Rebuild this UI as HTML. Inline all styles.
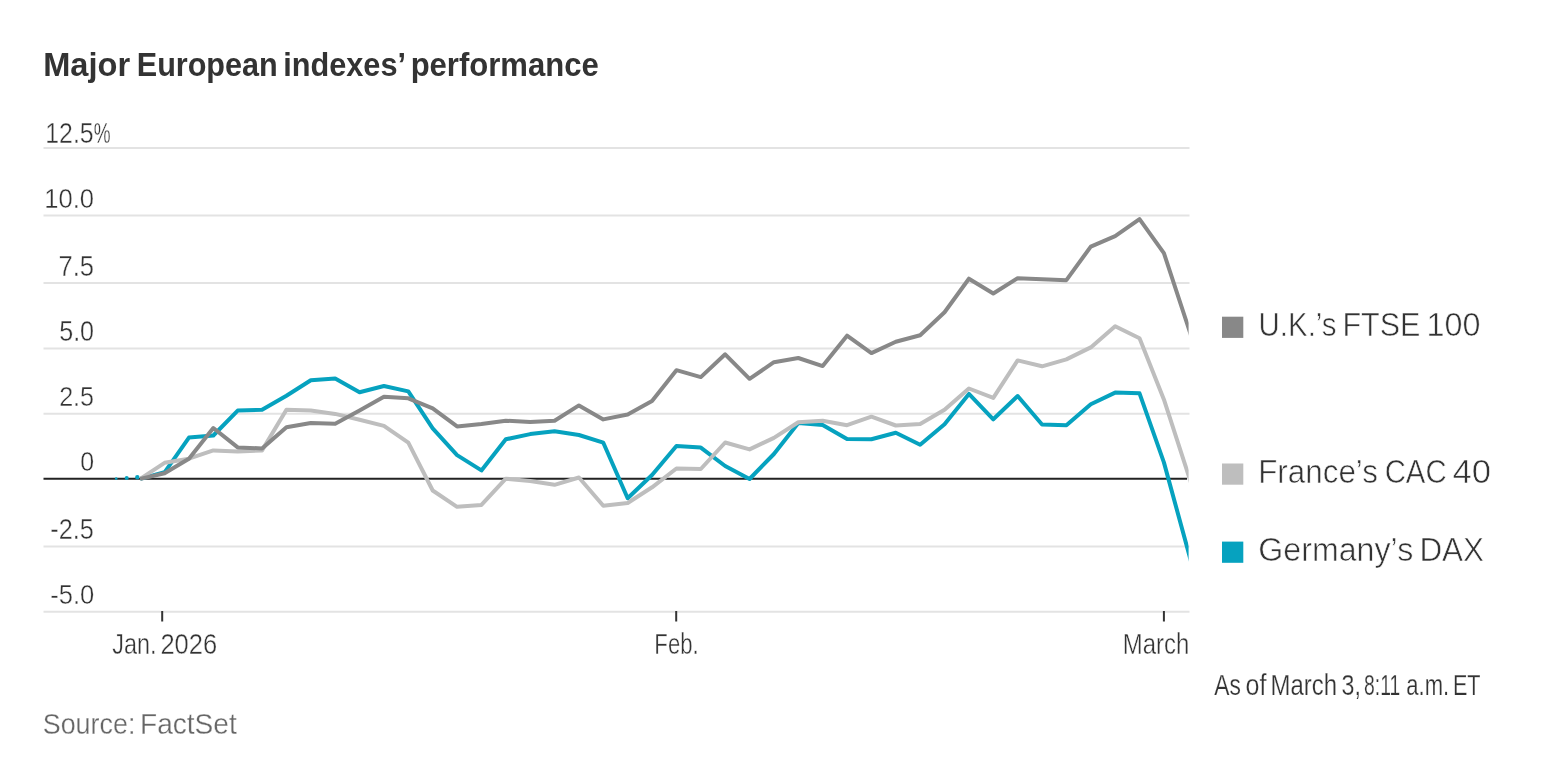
<!DOCTYPE html>
<html><head><meta charset="utf-8"><title>Major European indexes’ performance</title>
<style>html,body{margin:0;padding:0;background:#fff;width:1568px;height:784px;overflow:hidden;}svg{display:block;will-change:transform;}</style>
</head><body>
<svg width="1568" height="784" viewBox="0 0 1568 784" font-family='"Liberation Sans", sans-serif'>
<rect width="1568" height="784" fill="#fff"/>
<defs><clipPath id="plot"><rect x="0" y="0" width="1188.60" height="784"/></clipPath></defs>
<line x1="43.5" y1="148.0" x2="1189.5" y2="148.0" stroke="#e3e3e3" stroke-width="2"/>
<line x1="43.5" y1="215.5" x2="1189.5" y2="215.5" stroke="#e3e3e3" stroke-width="2"/>
<line x1="43.5" y1="283.0" x2="1189.5" y2="283.0" stroke="#e3e3e3" stroke-width="2"/>
<line x1="43.5" y1="348.5" x2="1189.5" y2="348.5" stroke="#e3e3e3" stroke-width="2"/>
<line x1="43.5" y1="413.8" x2="1189.5" y2="413.8" stroke="#e3e3e3" stroke-width="2"/>
<line x1="43.5" y1="546.5" x2="1189.5" y2="546.5" stroke="#e3e3e3" stroke-width="2"/>
<line x1="43.5" y1="611.8" x2="1189.5" y2="611.8" stroke="#e3e3e3" stroke-width="2"/>
<line x1="162.2" y1="611" x2="162.2" y2="621.5" stroke="#333" stroke-width="2"/>
<line x1="676.2" y1="611" x2="676.2" y2="621.5" stroke="#333" stroke-width="2"/>
<line x1="1163.9" y1="611" x2="1163.9" y2="621.5" stroke="#333" stroke-width="2"/>
<line x1="43.5" y1="478.8" x2="1187" y2="478.8" stroke="#222" stroke-width="2"/>
<circle cx="116.2" cy="478.6" r="1.3" fill="#06a2bf"/>
<circle cx="126.7" cy="478.0" r="2.0" fill="#06a2bf"/>
<circle cx="137.3" cy="477.2" r="2.2" fill="#06a2bf"/>
<polyline points="140.20,478.90 164.57,472.30 188.95,437.60 213.32,435.50 237.70,410.60 262.07,409.80 286.44,395.70 310.82,380.20 335.19,378.60 359.56,392.30 383.94,386.00 408.31,391.40 432.69,428.40 457.06,455.10 481.43,470.40 505.81,439.30 530.18,434.10 554.55,431.20 578.93,435.00 603.30,442.70 627.68,498.20 652.05,475.00 676.42,446.00 700.80,447.60 725.17,466.00 749.55,479.00 773.92,454.00 798.29,423.00 822.67,424.90 847.04,439.10 871.41,439.30 895.79,432.70 920.16,444.70 944.54,424.30 968.91,393.90 993.28,419.30 1017.66,396.00 1042.03,424.50 1066.40,425.30 1090.78,404.20 1115.15,392.60 1139.53,393.30 1163.90,462.40 1196.00,579.62" fill="none" stroke="#06a2bf" stroke-width="4.00" stroke-linejoin="round" clip-path="url(#plot)"/>
<polyline points="140.20,478.90 164.57,462.80 188.95,458.70 213.32,450.40 237.70,451.50 262.07,450.40 286.44,409.80 310.82,410.60 335.19,413.90 359.56,419.70 383.94,425.90 408.31,442.70 432.69,490.50 457.06,506.80 481.43,504.90 505.81,478.70 530.18,481.00 554.55,484.80 578.93,477.50 603.30,505.80 627.68,503.00 652.05,487.30 676.42,468.50 700.80,469.00 725.17,442.50 749.55,449.40 773.92,437.90 798.29,422.30 822.67,420.70 847.04,425.20 871.41,416.70 895.79,425.50 920.16,424.10 944.54,409.80 968.91,388.50 993.28,397.90 1017.66,360.40 1042.03,366.30 1066.40,359.40 1090.78,347.40 1115.15,326.20 1139.53,338.30 1163.90,399.40 1196.00,498.43" fill="none" stroke="#bebebe" stroke-width="4.00" stroke-linejoin="round" clip-path="url(#plot)"/>
<polyline points="140.20,478.90 164.57,473.30 188.95,458.70 213.32,428.00 237.70,447.40 262.07,448.40 286.44,427.20 310.82,423.00 335.19,423.80 359.56,410.60 383.94,396.80 408.31,398.30 432.69,408.30 457.06,426.40 481.43,424.00 505.81,420.70 530.18,422.00 554.55,420.70 578.93,405.40 603.30,419.40 627.68,414.50 652.05,401.00 676.42,370.20 700.80,377.10 725.17,354.30 749.55,378.80 773.92,362.20 798.29,358.00 822.67,366.10 847.04,335.70 871.41,353.10 895.79,341.70 920.16,335.20 944.54,312.20 968.91,278.70 993.28,293.50 1017.66,278.20 1042.03,279.20 1066.40,280.20 1090.78,246.60 1115.15,236.20 1139.53,219.10 1163.90,253.10 1196.00,350.70" fill="none" stroke="#888888" stroke-width="4.00" stroke-linejoin="round" clip-path="url(#plot)"/>
<rect x="1222" y="316.7" width="21.3" height="21.2" fill="#888888"/>
<rect x="1222" y="463.5" width="21.3" height="21.2" fill="#bebebe"/>
<rect x="1222" y="541.6" width="21.3" height="21.2" fill="#06a2bf"/>
<text x="43.22" y="76.00" font-size="33.00" textLength="86.92" lengthAdjust="spacingAndGlyphs" fill="#333" font-weight="bold">Major</text>
<text x="136.74" y="76.00" font-size="33.00" textLength="141.00" lengthAdjust="spacingAndGlyphs" fill="#333" font-weight="bold">European</text>
<text x="283.22" y="76.00" font-size="33.00" textLength="122.80" lengthAdjust="spacingAndGlyphs" fill="#333" font-weight="bold">indexes’</text>
<text x="410.64" y="76.00" font-size="33.00" textLength="188.16" lengthAdjust="spacingAndGlyphs" fill="#333" font-weight="bold">performance</text>
<text x="45.26" y="142.60" font-size="28.90" textLength="48.34" lengthAdjust="spacingAndGlyphs" fill="#333" stroke="#fff" stroke-width="0.40">12.5</text>
<text x="93.68" y="142.60" font-size="28.90" textLength="16.88" lengthAdjust="spacingAndGlyphs" fill="#333" stroke="#fff" stroke-width="0.40">%</text>
<text x="44.26" y="208.00" font-size="28.50" textLength="49.82" lengthAdjust="spacingAndGlyphs" fill="#333" stroke="#fff" stroke-width="0.40">10.0</text>
<text x="58.54" y="275.70" font-size="28.90" textLength="35.54" lengthAdjust="spacingAndGlyphs" fill="#333" stroke="#fff" stroke-width="0.40">7.5</text>
<text x="59.16" y="341.00" font-size="29.50" textLength="34.92" lengthAdjust="spacingAndGlyphs" fill="#333" stroke="#fff" stroke-width="0.40">5.0</text>
<text x="59.16" y="406.00" font-size="28.30" textLength="34.92" lengthAdjust="spacingAndGlyphs" fill="#333" stroke="#fff" stroke-width="0.40">2.5</text>
<text x="80.20" y="471.30" font-size="28.50" textLength="13.88" lengthAdjust="spacingAndGlyphs" fill="#333" stroke="#fff" stroke-width="0.40">0</text>
<text x="50.30" y="538.60" font-size="28.80" textLength="43.54" lengthAdjust="spacingAndGlyphs" fill="#333" stroke="#fff" stroke-width="0.40">-2.5</text>
<text x="50.16" y="603.80" font-size="27.80" textLength="44.06" lengthAdjust="spacingAndGlyphs" fill="#333" stroke="#fff" stroke-width="0.40">-5.0</text>
<text x="112.20" y="654.40" font-size="28.90" textLength="44.20" lengthAdjust="spacingAndGlyphs" fill="#333" stroke="#fff" stroke-width="0.40">Jan.</text>
<text x="160.40" y="654.40" font-size="28.90" textLength="56.72" lengthAdjust="spacingAndGlyphs" fill="#333" stroke="#fff" stroke-width="0.40">2026</text>
<text x="654.36" y="654.30" font-size="28.90" textLength="44.28" lengthAdjust="spacingAndGlyphs" fill="#333" stroke="#fff" stroke-width="0.40">Feb.</text>
<text x="1122.74" y="654.30" font-size="28.90" textLength="66.48" lengthAdjust="spacingAndGlyphs" fill="#333" stroke="#fff" stroke-width="0.40">March</text>
<text x="1258.60" y="336.00" font-size="33.40" textLength="78.00" lengthAdjust="spacingAndGlyphs" fill="#333" stroke="#fff" stroke-width="0.60">U.K.’s</text>
<text x="1342.42" y="336.00" font-size="33.40" textLength="78.04" lengthAdjust="spacingAndGlyphs" fill="#333" stroke="#fff" stroke-width="0.60">FTSE</text>
<text x="1426.46" y="336.00" font-size="33.40" textLength="54.00" lengthAdjust="spacingAndGlyphs" fill="#333" stroke="#fff" stroke-width="0.60">100</text>
<text x="1258.18" y="483.10" font-size="33.90" textLength="119.76" lengthAdjust="spacingAndGlyphs" fill="#333" stroke="#fff" stroke-width="0.60">France’s</text>
<text x="1384.64" y="483.10" font-size="33.90" textLength="61.96" lengthAdjust="spacingAndGlyphs" fill="#333" stroke="#fff" stroke-width="0.60">CAC</text>
<text x="1452.54" y="483.10" font-size="33.90" textLength="38.54" lengthAdjust="spacingAndGlyphs" fill="#333" stroke="#fff" stroke-width="0.60">40</text>
<text x="1258.36" y="561.10" font-size="33.30" textLength="154.86" lengthAdjust="spacingAndGlyphs" fill="#333" stroke="#fff" stroke-width="0.60">Germany’s</text>
<text x="1419.42" y="561.10" font-size="33.30" textLength="64.66" lengthAdjust="spacingAndGlyphs" fill="#333" stroke="#fff" stroke-width="0.60">DAX</text>
<text x="1214.24" y="694.50" font-size="29.20" textLength="26.60" lengthAdjust="spacingAndGlyphs" fill="#333" stroke="#fff" stroke-width="0.25">As</text>
<text x="1245.58" y="694.50" font-size="29.20" textLength="20.90" lengthAdjust="spacingAndGlyphs" fill="#333" stroke="#fff" stroke-width="0.25">of</text>
<text x="1270.60" y="694.50" font-size="29.20" textLength="66.48" lengthAdjust="spacingAndGlyphs" fill="#333" stroke="#fff" stroke-width="0.25">March</text>
<text x="1341.54" y="694.50" font-size="29.20" textLength="19.38" lengthAdjust="spacingAndGlyphs" fill="#333" stroke="#fff" stroke-width="0.25">3,</text>
<text x="1364.06" y="694.50" font-size="29.20" textLength="36.12" lengthAdjust="spacingAndGlyphs" fill="#333" stroke="#fff" stroke-width="0.25">8:11</text>
<text x="1406.30" y="694.50" font-size="29.20" textLength="42.82" lengthAdjust="spacingAndGlyphs" fill="#333" stroke="#fff" stroke-width="0.25">a.m.</text>
<text x="1452.88" y="694.50" font-size="29.20" textLength="27.64" lengthAdjust="spacingAndGlyphs" fill="#333" stroke="#fff" stroke-width="0.25">ET</text>
<text x="42.74" y="733.80" font-size="28.80" textLength="92.66" lengthAdjust="spacingAndGlyphs" fill="#666" stroke="#fff" stroke-width="0.30">Source:</text>
<text x="139.98" y="733.80" font-size="28.80" textLength="96.82" lengthAdjust="spacingAndGlyphs" fill="#666" stroke="#fff" stroke-width="0.30">FactSet</text>
</svg>
</body></html>
